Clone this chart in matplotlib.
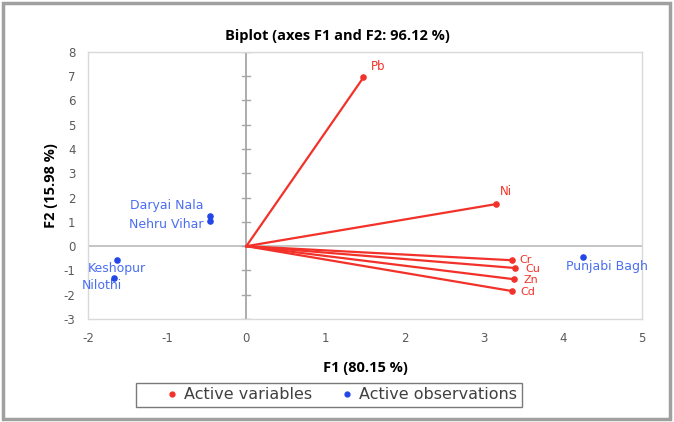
import numpy as np
import matplotlib
matplotlib.use("Agg")
import matplotlib.pyplot as plt
from matplotlib.patches import Rectangle
from matplotlib.lines import Line2D

plt.rcParams["axes.unicode_minus"] = False

# Active variables (loadings)
var_names = ["Pb", "Ni", "Cr", "Cu", "Zn", "Cd"]
var_f1 = [1.48, 3.15, 3.36, 3.40, 3.38, 3.36]
var_f2 = [6.95, 1.73, -0.58, -0.90, -1.36, -1.85]

# Active observations (sites)
obs_names = ["Daryai Nala", "Nehru Vihar", "Keshopur", "Nilothi", "Punjabi Bagh"]
obs_f1 = [-0.46, -0.46, -1.64, -1.67, 4.26]
obs_f2 = [1.23, 1.03, -0.58, -1.30, -0.45]

xticks = [-2, -1, 0, 1, 2, 3, 4, 5]
yticks = [-3, -2, -1, 0, 1, 2, 3, 4, 5, 6, 7, 8]

RED = "#f2322a"
BLUE = "#2346e8"
LBLUE = "#4a6ef0"
GRID = "#bfbfbf"

fig = plt.figure(figsize=(6.74, 4.22), dpi=100)
ax = fig.add_axes([0.1306, 0.244, 0.822, 0.633])

# arrows from origin
for x, y in zip(var_f1, var_f2):
    ax.plot([0, x], [0, y], color=RED, lw=1.6, zorder=3)
ax.scatter(var_f1, var_f2, s=14, color=RED, zorder=4)
ax.scatter(obs_f1, obs_f2, s=14, color=BLUE, zorder=4)

# labels (pixel offsets)
var_off = {"Pb": (15, 11), "Ni": (10, 13), "Cr": (13, 0), "Cu": (17, -1),
           "Zn": (17, -1), "Cd": (16, -1)}
for n, x, y in zip(var_names, var_f1, var_f2):
    fs = 8.5 if n in ("Pb", "Ni") else 8
    ax.annotate(n, (x, y), xytext=var_off[n], textcoords="offset pixels",
                ha="center", va="center", color=RED, fontsize=fs)

obs_off = {"Daryai Nala": (-43, 11), "Nehru Vihar": (-44, -3),
           "Keshopur": (0, -8), "Nilothi": (-12, -8), "Punjabi Bagh": (-17, -9)}
obs_ha = {"Daryai Nala": "center", "Nehru Vihar": "center", "Keshopur": "center",
          "Nilothi": "center", "Punjabi Bagh": "left"}
for n, x, y in zip(obs_names, obs_f1, obs_f2):
    ax.annotate(n, (x, y), xytext=obs_off[n], textcoords="offset pixels",
                ha=obs_ha[n], va="center", color=LBLUE, fontsize=9)

# zero lines
ax.axhline(0, color=GRID, lw=1.3, zorder=1)
ax.axvline(0, color="#a6a6a6", lw=1.3, zorder=1)
for yt in yticks:
    ax.plot([-0.05, 0.05], [yt, yt], color="#a6a6a6", lw=1.0, zorder=1)

ax.set_xlim(-2, 5)
ax.set_ylim(-3, 8)
ax.set_xticks(xticks)
ax.set_yticks(yticks)
ax.tick_params(length=0, pad=9, labelsize=8.5, labelcolor="#595959")
for s in ax.spines.values():
    s.set_color("#d9d9d9")
    s.set_linewidth(1.0)

fig.text(0.5, 0.915, "Biplot (axes F1 and F2: 96.12 %)", ha="center", va="center",
         fontsize=10.5, fontweight="bold", family="Open Sans")
ax.set_xlabel("F1 (80.15 %)", fontsize=10.5, fontweight="bold", family="Open Sans",
              labelpad=12)
ax.set_ylabel("F2 (15.98 %)", fontsize=10.5, fontweight="bold", family="Open Sans",
              labelpad=4)

handles = [Line2D([], [], marker="o", ls="", color=RED, markersize=3.5),
           Line2D([], [], marker="o", ls="", color=BLUE, markersize=3.5)]
leg = fig.legend(handles, ["Active variables", "Active observations"],
                 loc="center", bbox_to_anchor=(0.488, 0.064), ncol=2,
                 fontsize=11.5, frameon=True, fancybox=False, handletextpad=-1.19,
                 columnspacing=0.25, borderpad=0.3, borderaxespad=0,
                 handlelength=3.9)
leg.get_frame().set_edgecolor("#595959")
leg.get_frame().set_linewidth(1.0)
for t in leg.get_texts():
    t.set_color("#404040")

# outer border
fig.patches.append(Rectangle((0.004, 0.006), 0.99, 0.988, transform=fig.transFigure,
                             fill=False, edgecolor="#a0a0a0", lw=2.5))

fig.savefig("out.png", dpi=100)
